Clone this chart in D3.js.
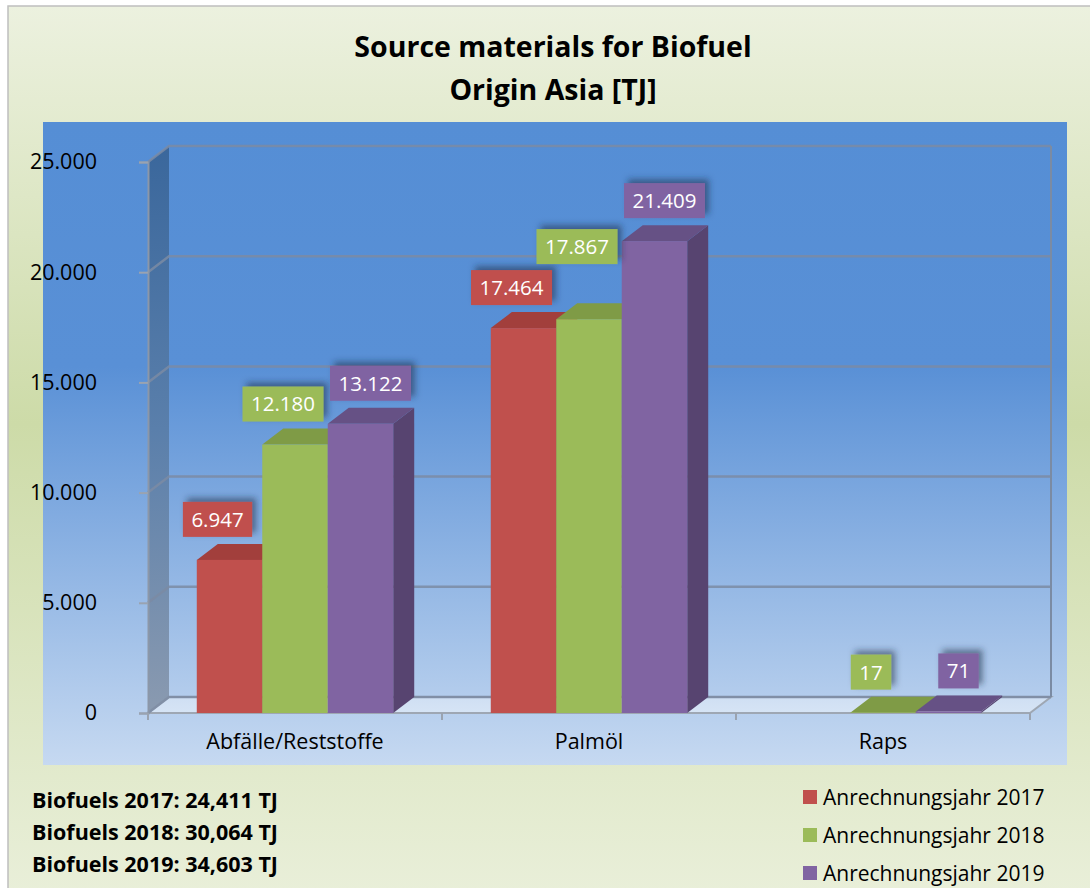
<!DOCTYPE html>
<html>
<head>
<meta charset="utf-8">
<script src="https://cdn.jsdelivr.net/npm/d3@7"></script>
<style>
body { margin:0; background:#fff }
text { font-family: "Open Sans", Lato, sans-serif }
</style>
</head>
<body>
<svg id="chart" width="1090" height="888"></svg>
<script>
var categories  = ['Abfälle/Reststoffe', 'Palmöl', 'Raps']
var seriesNames = ['Anrechnungsjahr 2017', 'Anrechnungsjahr 2018', 'Anrechnungsjahr 2019']
var values2017  = [6947, 17464, null]
var values2018  = [12180, 17867, 17]
var values2019  = [13122, 21409, 71]
var yTicks      = [0, 5000, 10000, 15000, 20000, 25000]
var titleLines  = ['Source materials for Biofuel', 'Origin Asia [TJ]']
var totals      = ['Biofuels 2017: 24,411 TJ', 'Biofuels 2018: 30,064 TJ', 'Biofuels 2019: 34,603 TJ']

var colors     = ['#c0504d', '#9bbb59', '#8064a2']
var topColors  = ['#a23f3c', '#7f9b46', '#665185']
var sideColors = ['#8f3a37', '#6f883d', '#574470']
var labelDx    = [-12, -12, 10]

var W = 1090, H = 888
var plot  = { x0:43, y0:122, x1:1067, y1:765 }
var front = { left:148, right:1030, top:162, bottom:713 }
var dp    = { dx:21, dy:-16 }

var de = d3.formatLocale({ decimal:',', thousands:'.', grouping:[3], currency:['', ''] })
var fmt = de.format(',d')

var svg = d3.select('#chart')
var defs = svg.append('defs')

function vgrad(id, stops) {
    var g = defs.append('linearGradient').attr('id', id)
        .attr('x1', 0).attr('y1', 0).attr('x2', 0).attr('y2', 1)
    stops.forEach(s=> g.append('stop').attr('offset', s[0]).attr('stop-color', s[1]))
}
vgrad('bg',    [[0, '#ecf1df'], [0.47, '#cddba8'], [1, '#e9efd9']])
vgrad('plotbg',[[0, '#558ed5'], [0.38, '#5990d6'], [1, '#c6d9f1']])
vgrad('wall',  [[0, '#3a679c'], [0.5, '#5a7fab'], [1, '#8a9ab0']])
vgrad('floor', [[0, '#cfdff3'], [1, '#d6e4f5']])

var sh = defs.append('filter').attr('id', 'shadow')
    .attr('x', '-30%').attr('y', '-40%').attr('width', '160%').attr('height', '180%')
sh.append('feDropShadow').attr('dx', 4).attr('dy', -4).attr('stdDeviation', 3)
    .attr('flood-color', '#1f2f4a').attr('flood-opacity', 0.55)

// background + frame
svg.append('rect').attr('x', 8).attr('y', 6).attr('width', W).attr('height', H)
    .attr('fill', 'url(#bg)').attr('stroke', '#bfbfbf').attr('stroke-width', 1.5)

svg.append('rect').attr('x', plot.x0).attr('y', plot.y0)
    .attr('width', plot.x1-plot.x0).attr('height', plot.y1-plot.y0)
    .attr('fill', 'url(#plotbg)')

// title
svg.append('g').selectAll('text').data(titleLines).join('text')
    .attr('x', 553).attr('y', (d, i)=> 57 + i*43)
    .attr('text-anchor', 'middle')
    .attr('font-size', 28.5).attr('font-weight', 'bold').attr('fill', '#000')
    .text(d=> d)

// scales
var x = d3.scaleBand().domain(categories).range([front.left, front.right])
var xs = d3.scaleBand().domain(d3.range(3)).range([0, x.bandwidth()]).paddingOuter(0.745)
var y = d3.scaleLinear().domain([0, 25000]).range([front.bottom, front.top])

var series = [values2017, values2018, values2019]

// left wall
var wallPts = [[front.left, y(25000)], [front.left+dp.dx, y(25000)+dp.dy],
               [front.left+dp.dx, y(0)+dp.dy], [front.left, y(0)]]
svg.append('polygon').attr('points', wallPts.join(' ')).attr('fill', 'url(#wall)')

// floor
var floorPts = [[front.left, y(0)], [front.right, y(0)],
                [front.right+dp.dx, y(0)+dp.dy], [front.left+dp.dx, y(0)+dp.dy]]
svg.append('polygon').attr('points', floorPts.join(' '))
    .attr('fill', 'url(#floor)').attr('stroke', '#9ea7b3').attr('stroke-width', 2)

// gridlines on side + back walls
svg.append('g').selectAll('polyline').data(yTicks).join('polyline')
    .attr('points', d=> [[front.left, y(d)], [front.left+dp.dx, y(d)+dp.dy],
                         [front.right+dp.dx, y(d)+dp.dy]].join(' '))
    .attr('fill', 'none').attr('stroke', '#7b8ba3').attr('stroke-opacity', 0.85).attr('stroke-width', 2.5)

svg.append('line')
    .attr('x1', front.right+dp.dx).attr('x2', front.right+dp.dx)
    .attr('y1', y(25000)+dp.dy).attr('y2', y(0)+dp.dy)
    .attr('stroke', '#7b8ba3').attr('stroke-width', 2)

// y axis
var yAxis = d3.axisLeft(y).tickValues(yTicks).tickFormat(d=> fmt(d)).tickSize(9).tickPadding(42)
var gy = svg.append('g').attr('transform', 'translate(' + front.left + ',0)').call(yAxis)
gy.select('.domain').attr('stroke', '#8c97a8').attr('stroke-width', 2)
gy.selectAll('.tick line').attr('stroke', '#9aa3b0').attr('stroke-width', 2)
gy.selectAll('.tick text').attr('font-size', 21.5).attr('fill', '#000')
    .style('font-family', '"Open Sans", sans-serif')

// x axis
var xAxis = d3.axisBottom(x).tickSize(0).tickPadding(21)
var gx = svg.append('g').attr('transform', 'translate(0,' + front.bottom + ')').call(xAxis)
gx.select('.domain').remove()
gx.selectAll('.tick text').attr('font-size', 21.5).attr('fill', '#000')
    .style('font-family', '"Open Sans", sans-serif')
var bounds = categories.map(c=> x(c)).concat([front.right])
svg.append('g').selectAll('line').data(bounds).join('line')
    .attr('x1', d=> d).attr('x2', d=> d)
    .attr('y1', front.bottom).attr('y2', front.bottom+7)
    .attr('stroke', '#9aa3b0').attr('stroke-width', 2)

// bars
var bars = svg.append('g')
var labels = []
categories.forEach((c, ci)=> {
    var placed = []
    series.forEach((vals, si)=> {
        var v = vals[ci]
        if (v == null) return
        var x0 = x(c) + xs(si), x1 = x0 + xs.bandwidth()
        var yt = y(v), yb = y(0)
        var g = bars.append('g')
        g.append('polygon')
            .attr('points', [[x1, yt], [x1+dp.dx, yt+dp.dy], [x1+dp.dx, yb+dp.dy], [x1, yb]].join(' '))
            .attr('fill', sideColors[si])
        g.append('polygon')
            .attr('points', [[x0, yt], [x1, yt], [x1+dp.dx, yt+dp.dy], [x0+dp.dx, yt+dp.dy]].join(' '))
            .attr('fill', topColors[si])
        g.append('rect').attr('x', x0).attr('y', yt)
            .attr('width', x1-x0).attr('height', Math.max(0, yb-yt))
            .attr('fill', colors[si])

        // label box
        var cx = (x0+x1)/2 + labelDx[si]
        var bh = 35
        var tmp = svg.append('text').attr('font-size', 20.5).text(fmt(v))
        var bw = tmp.node().getComputedTextLength() + 17
        tmp.remove()
        var box = { x:cx-bw/2, y:yt-23-bh, w:bw, h:bh }
        placed.forEach(p=> {
            if (box.x < p.x+p.w && box.x+box.w > p.x && box.y < p.y+p.h && box.y+box.h > p.y)
                box.y = p.y - 6 - bh
        })
        placed.push(box)
        labels.push({ box:box, v:v, si:si })
    })
})

var lg = svg.append('g').selectAll('g').data(labels).join('g')
lg.append('rect')
    .attr('x', d=> d.box.x).attr('y', d=> d.box.y)
    .attr('width', d=> d.box.w).attr('height', d=> d.box.h)
    .attr('fill', d=> colors[d.si]).attr('filter', 'url(#shadow)')
lg.append('text')
    .attr('x', d=> d.box.x + d.box.w/2).attr('y', d=> d.box.y + d.box.h/2)
    .attr('dy', '0.36em').attr('text-anchor', 'middle')
    .attr('font-size', 20.5).attr('fill', '#fff')
    .text(d=> fmt(d.v))

// totals
svg.append('g').selectAll('text').data(totals).join('text')
    .attr('x', 32).attr('y', (d, i)=> 808 + i*32)
    .attr('font-size', 21.5).attr('font-weight', 'bold').attr('fill', '#000')
    .text(d=> d)

// legend
var leg = svg.append('g').selectAll('g').data(seriesNames).join('g')
    .attr('transform', (d, i)=> 'translate(803,' + (797 + i*38) + ')')
leg.append('rect').attr('x', 0).attr('y', -7).attr('width', 14).attr('height', 14)
    .attr('fill', (d, i)=> colors[i])
leg.append('text').attr('x', 20).attr('dy', '0.36em')
    .attr('font-size', 21).attr('fill', '#000')
    .text(d=> d)
</script>
</body>
</html>
